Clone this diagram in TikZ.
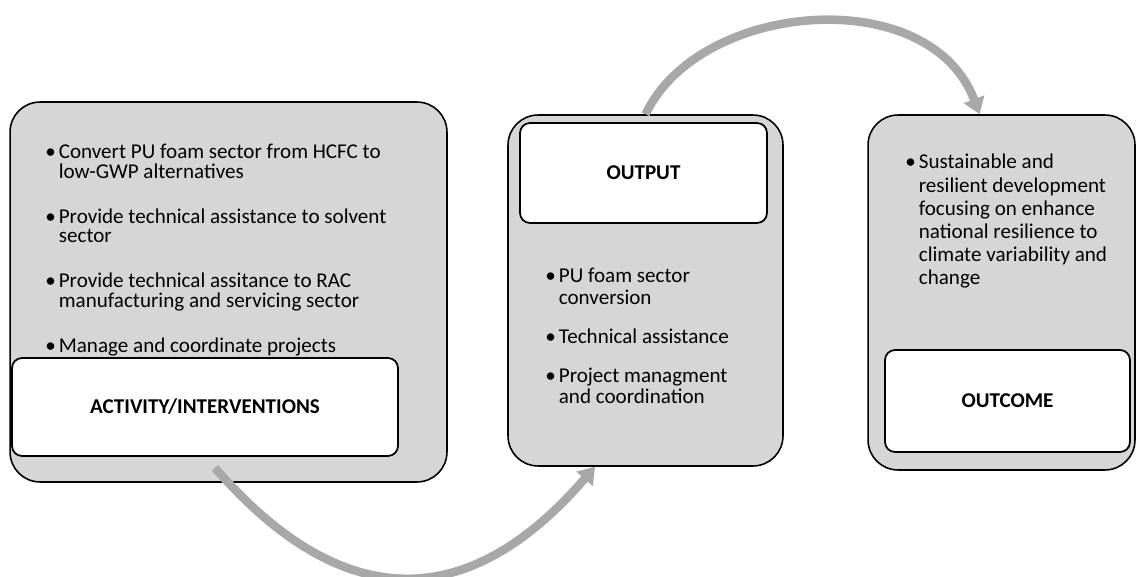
\documentclass[tikz,border=0pt]{standalone}
\usepackage{fontspec}
\setmainfont{Carlito}
\usetikzlibrary{arrows.meta}

\definecolor{boxgray}{gray}{0.84}
\definecolor{arrgray}{gray}{0.66}
\newcommand{\blt}{\textbullet\hspace{0.06cm}}
\newcommand{\bltin}{\hphantom{\blt}}

\begin{document}
\begin{tikzpicture}[x=0.02cm, y=-0.02cm,
		stage/.style={draw=black, line width=0.9pt, fill=boxgray, rounded corners=0.6cm, inner sep=0},
		stagelbl/.style={draw=black, line width=1pt, fill=white, rounded corners=0.2cm, font=\fontsize{12}{14}\selectfont\bfseries, inner sep=0},
		items/.style={anchor=north west, align=left, inner sep=0},
		flowarr/.style={-{Triangle[length=0.32cm,width=0.42cm]}, line width=0.17cm, draw=arrgray}]
		\useasboundingbox (0,0) rectangle (1138,577);
		
		\node[stage, minimum width=8.74cm, minimum height=7.6cm] (act) at (228.5,292) {};
		\node[stagelbl, minimum width=7.72cm, minimum height=1.96cm] (actlbl) at (205,407) {ACTIVITY/INTERVENTIONS};
		\node[items, font=\fontsize{12}{11.1}\selectfont] (actlist) at (45,144) {\blt Convert PU foam sector from HCFC to\\ \bltin low-GWP alternatives\\[0.51cm]
			\blt Provide technical assistance to solvent\\ \bltin sector\\[0.51cm]
			\blt Provide technical assitance to RAC\\ \bltin manufacturing and servicing sector\\[0.51cm]
			\blt Manage and coordinate projects};
		
		\node[stage, minimum width=5.5cm, minimum height=7.02cm] (out) at (645.5,290.5) {};
		\node[stagelbl, minimum width=4.94cm, minimum height=2cm] (outlbl) at (643.5,173) {OUTPUT};
		\node[items, font=\fontsize{12}{12.2}\selectfont] (outlist) at (545,268) {\blt PU foam sector\\ \bltin conversion\\[0.35cm]
			\blt Technical assistance\\[0.35cm]
			\blt Project managment\\ \bltin and coordination};
		
		\node[stage, minimum width=5.34cm, minimum height=7.1cm] (res) at (1001.5,292.5) {};
		\node[stagelbl, minimum width=4.9cm, minimum height=2.04cm] (reslbl) at (1007.5,401) {OUTCOME};
		\node[items, font=\fontsize{12}{13.1}\selectfont] (reslist) at (905,154) {\blt Sustainable and\\ \bltin resilient development\\ \bltin focusing on enhance\\
			\bltin national resilience to\\ \bltin climate variability and\\ \bltin change};
		
		\draw[flowarr] ([shift={(10,11)}]actlbl.south) .. controls (342,614) and (468,614) .. (out.-106);
		\draw[flowarr] (out.north) .. controls (700,0) and (930,-18) .. (res.97);
		
\end{tikzpicture}
\end{document}
